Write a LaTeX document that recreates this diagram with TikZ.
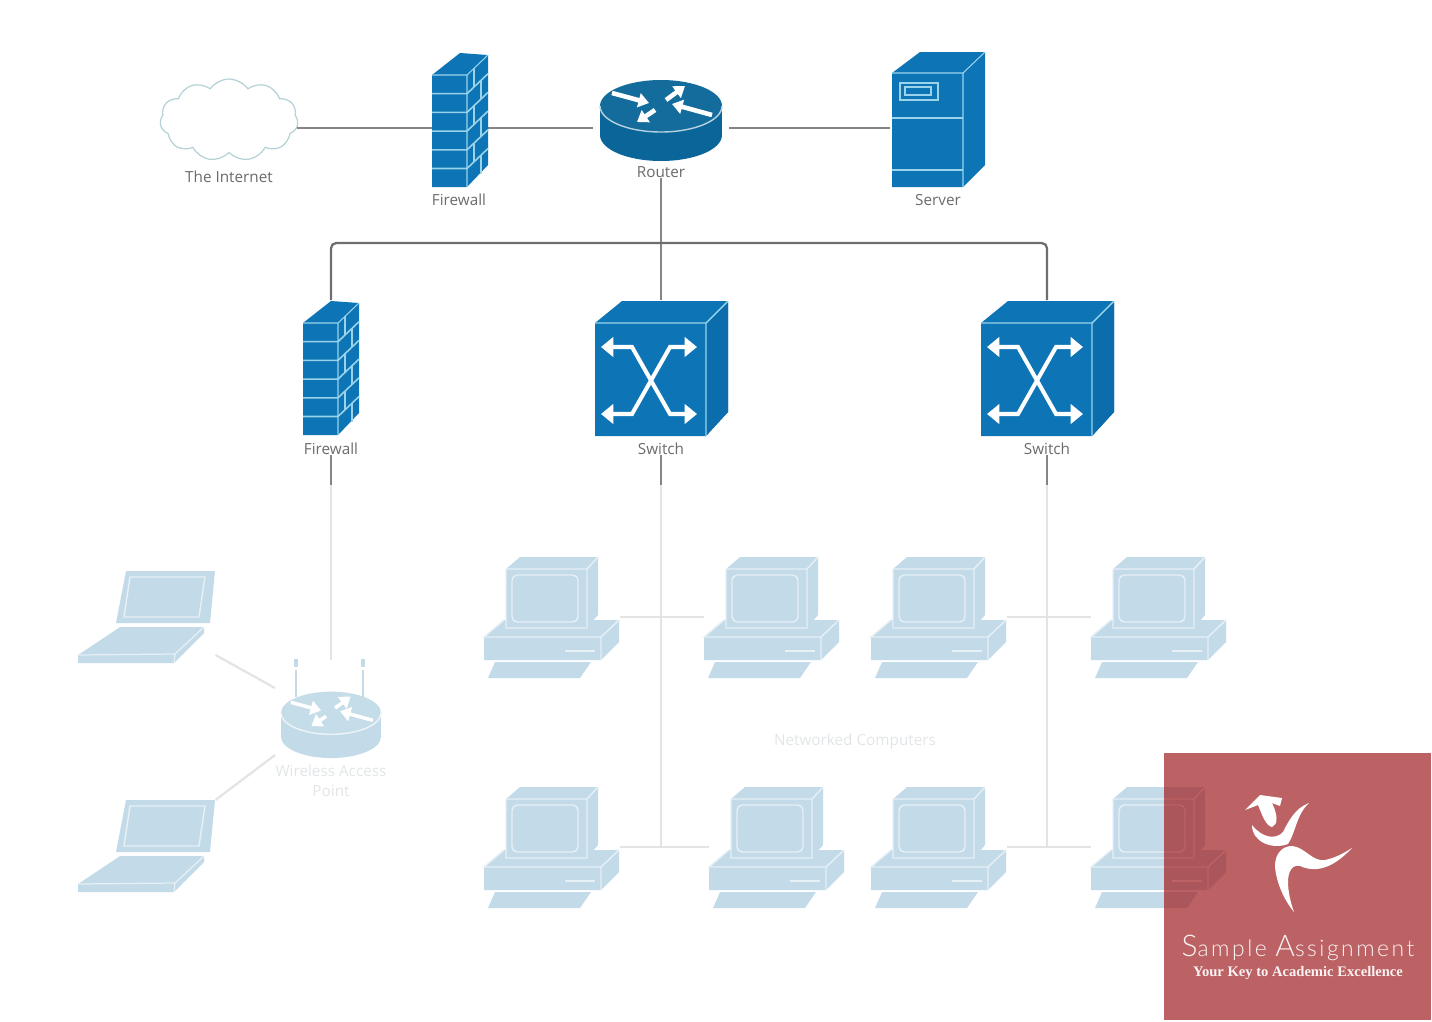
\documentclass[tikz,border=0pt]{standalone}
\usepackage{fontspec}
\setmainfont{Open Sans}
\newfontfamily\marksans{Lato Light}
\newfontfamily\markserif{Liberation Serif}
\usetikzlibrary{shapes.symbols, arrows.meta}

\definecolor{iconblue}{HTML}{0D74B6}
\definecolor{iconside}{HTML}{0B6DAC}
\definecolor{iconedge}{HTML}{9AD3EA}
\definecolor{routerbody}{HTML}{0A6699}
\definecolor{paleicon}{HTML}{C3DBE8}
\definecolor{paleedge}{HTML}{E6F0F5}
\definecolor{wmred}{HTML}{BC6264}
\definecolor{wmshade}{HTML}{AB565B}
\colorlet{pcfill}{paleicon}
\colorlet{pcedge}{paleedge}

\tikzset{
  firewallicon/.pic={
    \fill[iconblue] (-28,-53) -- (0,-75) -- (28,-73) -- (28,37) -- (7,59) -- (-28,59) -- cycle;
    \draw[iconedge, line width=0.6pt] (-28,-53) -- (7,-53) -- (28,-73) (7,-53) -- (7,59);
    \foreach \k in {1,...,5} {
      \draw[iconedge, line width=0.9pt] (-28,-53+18.7*\k) -- (7,-53+18.7*\k) -- (28,-73+18.7*\k);
    }
    \foreach \k in {0,2,4} {
      \draw[iconedge, line width=0.6pt] (14,-60+18.7*\k) -- (14,-41+18.7*\k);
      \draw[iconedge, line width=0.6pt] (21,-48+18.7*\k) -- (21,-29+18.7*\k);
    }
  },
  routericon/.pic={
    \begin{scope}[shift={(0,-22)}]
      \fill[#1] (0,29) ellipse [x radius=61, y radius=26];
      \fill[#1] (-61,0) rectangle (61,29);
      \fill[#1!96!white] (0,0) ellipse [x radius=61, y radius=26];
      \draw[white!70!#1, line width=0.8pt] (-61,0) arc [start angle=180, end angle=0, x radius=61, y radius=26];
      \draw[tipwhite] (-49,-13) -- (-12,-3);
      \draw[tipwhite] (5,-6) -- (24,-20);
      \draw[tipwhite] (51,9) -- (11,-2);
      \draw[tipwhite] (-6,4) -- (-24,16);
    \end{scope}
  },
  servericon/.pic={
    \fill[iconblue] (-47,-55) -- (-19,-76) -- (46,-76) -- (46,37) -- (24,59) -- (-47,59) -- cycle;
    \draw[iconedge, line width=0.6pt] (-47,-55) -- (24,-55) -- (46,-76) (24,-55) -- (24,59);
    \draw[iconedge, line width=0.9pt] (-47,-10) -- (24,-10) (-47,42) -- (24,42);
    \draw[iconedge, line width=0.8pt] (-39,-45) rectangle (-1,-28);
    \draw[iconedge, line width=0.6pt] (-34,-41) rectangle (-8,-33);
  },
  switchicon/.pic={
    \fill[iconblue] (-66,-45) -- (-39,-67) -- (67,-67) -- (67,44) -- (45,68) -- (-66,68) -- cycle;
    \fill[iconside] (45,-45) -- (67,-65) -- (67,44) -- (45,68) -- cycle;
    \draw[iconedge, line width=0.8pt] (-66,-45) -- (45,-45) -- (67,-67) (45,-45) -- (45,68);
    \draw[xarrow] (-60,-21) -- (-29,-21) -- (9,46) -- (36,46);
    \draw[xarrow] (36,-21) -- (9,-21) -- (-29,46) -- (-60,46);
  },
  pcicon/.pic={
    \fill[pcfill] (-68,20) -- (-48,3) -- (67,3) -- (67,25) -- (49,43) -- (-68,43) -- cycle;
    \draw[pcedge, line width=0.8pt] (-48,3) -- (-68,20) -- (49,20) -- (67,3) (49,20) -- (49,43);
    \draw[pcedge, line width=1.2pt] (13,34) -- (43,34);
    \fill[pcfill] (-46,-48) -- (-32,-60) -- (46,-60) -- (46,-2) -- (35,11) -- (-46,11) -- cycle;
    \draw[pcedge, line width=0.8pt] (-46,-48) -- (35,-48) -- (46,-60) (35,-48) -- (35,11) -- (-46,11) -- (-46,-48);
    \draw[pcedge, line width=0.8pt, rounded corners=3pt] (-40,-42) rectangle (26,5);
    \fill[pcfill] (-57,45) -- (39,45) -- (28,61) -- (-64,61) -- cycle;
  },
  laptopicon/.pic={
    \fill[paleicon] (-21,-42) -- (68,-42) -- (63,10) -- (-31,10) -- cycle;
    \draw[paleedge, line width=0.8pt] (-17,-36) -- (58,-36) -- (52,4) -- (-23,4) -- cycle;
    \fill[paleicon] (-27,14) -- (57,14) -- (57,20) -- (27,50) -- (-69,50) -- (-69,42) -- cycle;
    \draw[paleedge, line width=0.7pt] (-69,42) -- (28,41) -- (57,14) (28,41) -- (27,50);
  },
  portbox/.style={inner sep=0pt, outer sep=0pt},
  firewallport/.style={portbox, minimum width=1.12cm, minimum height=3.04cm},
  routerport/.style={portbox, minimum width=2.74cm, minimum height=1.6cm},
  serverport/.style={portbox, minimum width=1.96cm, minimum height=3cm},
  switchport/.style={portbox, minimum width=2.72cm, minimum height=2.72cm},
  apport/.style={portbox, minimum width=2cm, minimum height=2.84cm},
  pcport/.style={portbox, minimum width=2.72cm, minimum height=2.42cm},
  laptopport/.style={portbox, minimum width=2.74cm, minimum height=1.68cm}
}

\begin{document}
\begin{tikzpicture}[
  x=0.02cm, y=-0.02cm,
  internetcloud/.style={cloud, draw=cloudline, fill=white, line width=0.7pt, cloud puffs=11, cloud puff arc=110, aspect=1.7, minimum width=2.76cm, minimum height=1.64cm, inner sep=0pt, outer sep=0pt},
  tag/.style={text=tagtext, font=\fontsize{8.7}{10}\selectfont, inner sep=0pt},
  paletag/.style={text=paletext, font=\fontsize{8.7}{11.5}\selectfont, align=center, inner sep=0pt},
  wire/.style={draw=wiregray, line width=1.7pt},
  stubwire/.style={draw=wiregray, line width=1.3pt},
  buswire/.style={draw=busgray, line width=1.3pt, rounded corners=3pt},
  palewire/.style={draw=palegray, line width=1.3pt},
  tipwhite/.style={draw=white, line width=2.6pt, -{Triangle[length=6pt, width=8pt]}},
  xarrow/.style={draw=white, line width=2.3pt, {Triangle[length=7pt, width=11pt]}-{Triangle[length=7pt, width=11pt]}}
]
\definecolor{cloudline}{HTML}{B5D2D8}
\definecolor{tagtext}{HTML}{6A6A6A}
\definecolor{paletext}{HTML}{E2E5E7}
\definecolor{wiregray}{HTML}{858585}
\definecolor{busgray}{HTML}{6E6E6E}
\definecolor{palegray}{HTML}{E4E4E4}
\useasboundingbox (0,0) rectangle (1432,1021);

% Upper row
\node[internetcloud] (internet) at (229,120) {};
\node[firewallport] (fwa) at (460,128) {};
\node[routerport] (router) at (661,128) {};
\node[serverport] (server) at (939,128) {};

% Middle row
\node[firewallport] (fwb) at (331,376) {};
\node[switchport] (swa) at (661,368) {};
\node[switchport] (swb) at (1047,368) {};
\coordinate (busjoin) at (661,243);

% Lower left
\node[apport] (ap) at (331,731) {};
\node[laptopport] (lapa) at (147,613) {};
\node[laptopport] (lapb) at (147,842) {};
\coordinate (apin) at (275,688);
\coordinate (apinb) at (275,755);

% Computers
\node[pcport] (pca) at (552,617) {};
\node[pcport] (pcb) at (772,617) {};
\node[pcport] (pcc) at (939,617) {};
\node[pcport] (pcd) at (1159,617) {};
\node[pcport] (pce) at (552,847) {};
\node[pcport] (pcf) at (777,847) {};
\node[pcport] (pcg) at (939,847) {};
\node[pcport] (pch) at (1159,847) {};

% Connectors
\coordinate (fwbtail) at (331,485);
\coordinate (swatail) at (661,485);
\coordinate (swbtail) at (1047,485);
\draw[wire] (internet.east |- fwa) -- (fwa.west);
\draw[wire] (fwa.east) -- (router.west);
\draw[wire] (router.east) -- (server.west);
\draw[palewire] (fwbtail) -- (ap.north);
\draw[palewire] (swatail) -- (swatail |- pce.east);
\draw[palewire] (swbtail) -- (swbtail |- pch.west);
\draw[palewire] (pca.east) -- (pcb.west);
\draw[palewire] (pce.east) -- (pcf.west);
\draw[palewire] (pcc.east) -- (pcd.west);
\draw[palewire] (pcg.east) -- (pch.west);
\draw[palewire] (lapa.south east) -- (apin);
\draw[palewire] (lapb.north east) -- (apinb);

% Icons
\pic at (fwa) {firewallicon};
\pic at (fwb) {firewallicon};
\pic at (router) {routericon=routerbody};
\pic at (server) {servericon};
\pic at (swa) {switchicon};
\pic at (swb) {switchicon};
\draw[paleicon, line width=1.6pt] (296,670) -- (296,697) (363,670) -- (363,697);
\draw[paleicon, line width=2.4pt] (296,659) -- (296,667) (363,659) -- (363,667);
\pic[scale=0.82, tipwhite/.append style={line width=2pt}] at (ap) {routericon=paleicon};
\foreach \pcname in {pca,pcb,pcc,pcd,pce,pcf,pcg,pch} {
  \pic at (\pcname) {pcicon};
}
\pic at (lapa) {laptopicon};
\pic at (lapb) {laptopicon};

% Tags
\node[tag] (internettag) at (229,177) {The Internet};
\node[tag] (fwatag) at (459,200) {Firewall};
\node[tag] (routertag) at (661,172) {Router};
\node[tag] (servertag) at (938,200) {Server};
\node[tag] (fwbtag) at (331,449) {Firewall};
\node[tag] (swatag) at (661,449) {Switch};
\node[tag] (swbtag) at (1047,449) {Switch};
\node[paletag] (aptag) at (331,781) {Wireless Access\\Point};
\node[paletag] (nettag) at (855,742) {Networked Computers};

% Wires that start under the tags
\draw[stubwire] (routertag.south) -- (busjoin);
\draw[stubwire] (busjoin) -- (swa.north);
\draw[buswire] (fwb.north) |- (busjoin) -| (swb.north);
\draw[stubwire] (fwbtag.south) -- (fwbtail);
\draw[stubwire] (swatag.south) -- (swatail);
\draw[stubwire] (swbtag.south) -- (swbtail);

% Watermark
\node[portbox, fill=wmred, minimum width=5.34cm, minimum height=5.34cm] (mark) at (1297.5,886.5) {};
\begin{scope}
  \clip (mark.south west) rectangle (mark.north east);
  \colorlet{pcfill}{wmshade}
  \colorlet{pcedge}{wmred}
  \pic at (pch) {pcicon};
\end{scope}
\fill[white] (1245,810) -- (1260,795) -- (1282,798) -- (1280,806) -- (1272,803) .. controls (1278,815) and (1278,825) .. (1272,827) .. controls (1266,826) and (1262,815) .. (1258,805) -- cycle;
\fill[white] (1309,803) .. controls (1295,808) and (1288,822) .. (1283,832) .. controls (1276,840) and (1262,838) .. (1252,825) .. controls (1252,842) and (1272,850) .. (1288,844) .. controls (1296,832) and (1296,815) .. (1309,803) -- cycle;
\fill[white] (1352,848) .. controls (1335,866) and (1318,874) .. (1300,866) .. controls (1292,864) and (1288,872) .. (1288,882) .. controls (1288,892) and (1291,904) .. (1294,912) .. controls (1284,900) and (1276,882) .. (1275,866) .. controls (1275,854) and (1282,846) .. (1292,846) .. controls (1305,847) and (1312,862) .. (1325,860) .. controls (1335,858) and (1344,853) .. (1352,848) -- cycle;
\node[text=white!92!wmred, font=\marksans\fontsize{13}{16}\selectfont, inner sep=0pt] (marktitle) at (1298,948) {\addfontfeature{LetterSpace=11}{\fontsize{17}{16}\selectfont S}ample {\fontsize{17}{16}\selectfont A}ssignment};
\node[text=white!92!wmred, font=\markserif\bfseries\fontsize{8.3}{10}\selectfont, inner sep=0pt] (markline) at (1298,973) {Your Key to Academic Excellence};

\end{tikzpicture}
\end{document}
